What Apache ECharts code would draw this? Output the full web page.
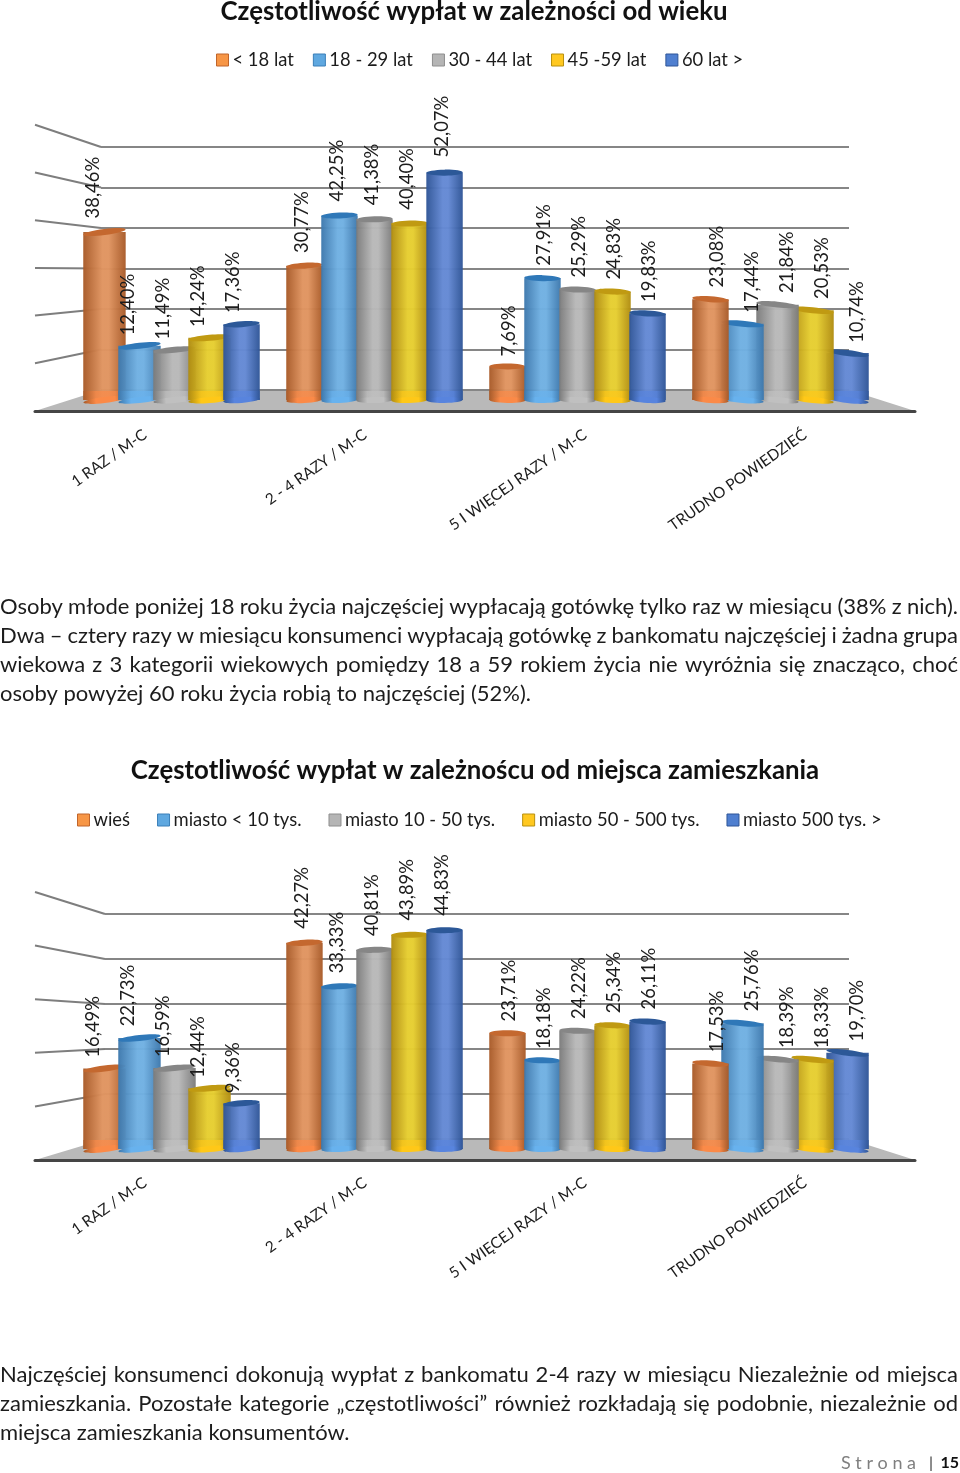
<!DOCTYPE html>
<html><head><meta charset="utf-8">
<style>html,body{margin:0;padding:0;background:#fff}#c{width:960px;height:1473px}</style>
<script src="https://cdn.jsdelivr.net/npm/echarts@6/dist/echarts.min.js"></script>
</head><body><div id="c"></div>
<script>
const categories = ['1 RAZ / M-C','2 - 4 RAZY / M-C','5 I WIĘCEJ RAZY / M-C','TRUDNO POWIEDZIEĆ'];
const ageNames = ['< 18 lat','18 - 29 lat','30 - 44 lat','45 -59 lat','60 lat >'];
const ageUnder18 = [38.46,30.77,7.69,23.08];
const age18to29 = [12.40,42.25,27.91,17.44];
const age30to44 = [11.49,41.38,25.29,21.84];
const age45to59 = [14.24,40.40,24.83,20.53];
const age60plus = [17.36,52.07,19.83,10.74];
const placeNames = ['wieś','miasto < 10 tys.','miasto 10 - 50 tys.','miasto 50 - 500 tys.','miasto 500 tys. >'];
const placeVillage = [16.49,42.27,23.71,17.53];
const placeUnder10 = [22.73,33.33,18.18,25.76];
const place10to50 = [16.59,40.81,24.22,18.39];
const place50to500 = [12.44,43.89,25.34,18.33];
const place500plus = [9.36,44.83,26.11,19.70];
const ticks1 = 60, ticks2 = 50;

const FONT = 'Lato, Carlito, Calibri, sans-serif';
const palette = [
 {edge:'#a85a28',mid:'#e09460',low:'#fb8a48',top:'#c4682f',leg:'#f79646',legB:'#c0652b'},
 {edge:'#3d78ad',mid:'#70b0e2',low:'#68b2ee',top:'#2f78b8',leg:'#5fa8e0',legB:'#3a7fb8'},
 {edge:'#7b7b7b',mid:'#b8b8b8',low:'#c0c0c0',top:'#868686',leg:'#b5b5b5',legB:'#8e8e8e'},
 {edge:'#b08c10',mid:'#e6ce30',low:'#ffc818',top:'#c09a12',leg:'#ffc820',legB:'#b8900f'},
 {edge:'#2f5597',mid:'#6489d4',low:'#5884de',top:'#2c5898',leg:'#4f7fd0',legB:'#2f5597'}
];
const labelShift = [-8,-2,2,7];
const sideRight = [6,0,0,0];
const sideLeft = [0,0,0,6];

function cyl(si, p, labelSize){
  return function(params, api){
    const i = api.value(0), v = api.value(1);
    const band = api.size([1,0])[0];
    const slot = band*0.1725, w0 = slot*1.04;
    const base = api.coord([i,0]), topP = api.coord([i,v]);
    const c0 = base[0] + (si-2)*slot;
    const left = si>0 ? sideLeft[i] : 0, right = si<4 ? sideRight[i] : 0;
    const bx = c0 - w0/2 - left, w = w0 + left + right;
    const cx = bx + w/2, by = base[1], ty = topP[1];
    const tilt = (480-cx)/400*0.13;
    const order = (i===3 ? 5-si : si)*10;
    const grad = new echarts.graphic.LinearGradient(0,0,1,0,[
      {offset:0,color:p.edge},{offset:.45,color:p.mid},{offset:.6,color:p.mid},{offset:1,color:p.edge}]);
    const lowGrad = new echarts.graphic.LinearGradient(0,0,1,0,[
      {offset:0,color:p.edge},{offset:.3,color:p.low},{offset:.75,color:p.low},{offset:1,color:p.edge}]);
    const text = v.toFixed(2).replace('.',',')+'%';
    return {type:'group',children:[
      {type:'rect',z2:order,shape:{x:bx,y:ty,width:w,height:by-ty},style:{fill:grad,opacity:.97}},
      {type:'rect',z2:order+1,shape:{x:bx,y:by-9,width:w,height:9},style:{fill:lowGrad,opacity:.7}},
      {type:'ellipse',z2:order+2,x:cx,y:by,rotation:tilt,shape:{cx:0,cy:0,rx:w/2,ry:3},style:{fill:lowGrad}},
      {type:'ellipse',z2:order+3,x:cx,y:ty,rotation:tilt,shape:{cx:0,cy:0,rx:w/2,ry:3},style:{fill:p.top}},
      {type:'text',z2:200,x:c0+labelShift[i],y:ty-(9+0.12*v),rotation:Math.PI/2,
       style:{text:text,fontFamily:FONT,fontSize:labelSize,fill:'#1c1c1c',align:'left',verticalAlign:'middle'}}
    ]};
  };
}

function mkSeries(names, arrays, gridBase){
  return arrays.map((vals,si)=>({
    type:'custom',name:names[si],coordinateSystem:'cartesian2d',
    xAxisIndex:gridBase,yAxisIndex:gridBase,clip:false,
    itemStyle:{color:palette[si].leg},
    renderItem:cyl(si,palette[si],18.4),
    encode:{x:0,y:1},
    data:vals.map((v,i)=>[i,v])
  }));
}

const grids=[], xAxes=[], yAxes=[];
function addChart(g){
  grids.push({left:70,width:812,top:g.barTop,height:g.baseY-g.barTop});
  xAxes.push({type:'category',data:categories,gridIndex:grids.length-1,show:false});
  yAxes.push({type:'value',min:0,max:g.max,interval:10,gridIndex:grids.length-1,show:false});
  grids.push({left:g.backX,width:849-g.backX,top:g.backTop,height:g.backY-g.backTop});
  xAxes.push({type:'category',data:categories,gridIndex:grids.length-1,show:false});
  yAxes.push({type:'value',min:0,max:g.max,interval:10,gridIndex:grids.length-1,
    axisLine:{show:false},axisTick:{show:false},axisLabel:{show:false},
    splitLine:{show:true,lineStyle:{color:'#868686',width:2}}});
  grids.push({left:35,width:880,top:g.frontY-10,height:10});
  xAxes.push({type:'category',data:categories,gridIndex:grids.length-1,
    axisLine:{show:true,lineStyle:{color:'#454545',width:3}},axisTick:{show:false},
    axisLabel:{interval:0,rotate:35,margin:g.labMargin,fontFamily:FONT,fontSize:15.4,color:'#1c1c1c',hideOverlap:false}});
  yAxes.push({type:'value',min:0,max:1,gridIndex:grids.length-1,show:false});
}
const G1={barTop:138,baseY:400,max:ticks1,backX:101,backTop:147,backY:390,frontY:411,labMargin:22};
const G2={barTop:905,baseY:1149,max:ticks2,backX:105,backTop:914,backY:1139,frontY:1160,labMargin:21};
addChart(G1); addChart(G2);

const graphics=[];
function floorAndWalls(g,step,n,frontStep){
  graphics.push({type:'polygon',z:-1,shape:{points:[[35,g.frontY],[g.backX,g.backY],[849,g.backY],[915,g.frontY]]},
    style:{fill:'#b9b9b9'}});
  for(let k=1;k<=n;k++){
    graphics.push({type:'polyline',z:0,shape:{points:[[35,g.frontY-k*frontStep],[g.backX,g.backY-k*step]]},
      style:{stroke:'#7e7e7e',lineWidth:2,fill:null}});
  }
}
floorAndWalls(G1,40.5,6,47.7);
floorAndWalls(G2,45,5,53.6);

const BODY=22;
const ctx=document.createElement('canvas').getContext('2d');
ctx.font=BODY+'px Lato';
function para(lines,justified,y0,lh){
  lines.forEach((ln,li)=>{
    const words=ln.split(' ');
    const wid=words.map(w=>ctx.measureText(w).width);
    const sum=wid.reduce((a,b)=>a+b,0);
    const sp=justified[li]?(958-sum)/(words.length-1):ctx.measureText(' ').width;
    let x=0;
    words.forEach((w,i)=>{
      graphics.push({type:'text',z:5,x:x,y:y0+li*lh,style:{text:w,fontFamily:'Lato',fontSize:BODY,fill:'#1c1c1c',verticalAlign:'middle'}});
      x+=wid[i]+sp;
    });
  });
}
para(['Osoby młode poniżej 18 roku życia najczęściej wypłacają gotówkę tylko raz w miesiącu (38% z nich).',
 'Dwa – cztery razy w miesiącu konsumenci wypłacają gotówkę z bankomatu najczęściej i żadna grupa',
 'wiekowa z 3 kategorii wiekowych pomiędzy 18 a 59 rokiem życia nie wyróżnia się znacząco, choć',
 'osoby powyżej 60 roku życia robią to najczęściej (52%).'],[1,1,1,0],606.5,29.3);
para(['Najczęściej konsumenci dokonują wypłat z bankomatu 2-4 razy w miesiącu Niezależnie od miejsca',
 'zamieszkania. Pozostałe kategorie „częstotliwości” również rozkładają się podobnie, niezależnie od',
 'miejsca zamieszkania konsumentów.'],[1,1,0],1374.5,29.3);
graphics.push({type:'text',z:5,x:841,y:1463,style:{text:'S t r o n a',fontFamily:'Lato',fontSize:18,fill:'#7f7f7f',verticalAlign:'middle'}});
graphics.push({type:'text',z:5,x:929,y:1463,style:{text:'|',fontFamily:'Lato',fontSize:16,fill:'#333',verticalAlign:'middle'}});
graphics.push({type:'text',z:5,x:959,y:1463,style:{text:'15',fontFamily:'Lato',fontSize:16,fontWeight:'bold',fill:'#111',align:'right',verticalAlign:'middle'}});

function legendOf(names,left,top,gap){
  return {left:left,top:top,padding:0,itemWidth:12,itemHeight:12,itemGap:gap,selectedMode:false,
    textStyle:{fontFamily:FONT,fontSize:18.4,color:'#1c1c1c',padding:[0,0,0,-1]},
    data:names.map((n,i)=>({name:n,icon:'rect',itemStyle:{color:palette[i].leg,borderColor:palette[i].legB,borderWidth:1}}))};
}

const chart=echarts.init(document.getElementById('c'),null,{renderer:'canvas',width:960,height:1473});
chart.setOption({
  animation:false,backgroundColor:'#fff',
  title:[
   {text:'Częstotliwość wypłat w zależności od wieku',left:469,top:-6,textAlign:'center',textStyle:{fontFamily:FONT,fontSize:25.8,fontWeight:'bold',color:'#111'}},
   {text:'Częstotliwość wypłat w zależnoścu od miejsca zamieszkania',left:470,top:753,textAlign:'center',textStyle:{fontFamily:FONT,fontSize:25.8,fontWeight:'bold',color:'#111'}}
  ],
  legend:[legendOf(ageNames,216,51,19),legendOf(placeNames,77,811,27)],
  grid:grids,xAxis:xAxes,yAxis:yAxes,
  graphic:graphics,
  series:[...mkSeries(ageNames,[ageUnder18,age18to29,age30to44,age45to59,age60plus],0),
          ...mkSeries(placeNames,[placeVillage,placeUnder10,place10to50,place50to500,place500plus],3)]
});
</script></body></html>
